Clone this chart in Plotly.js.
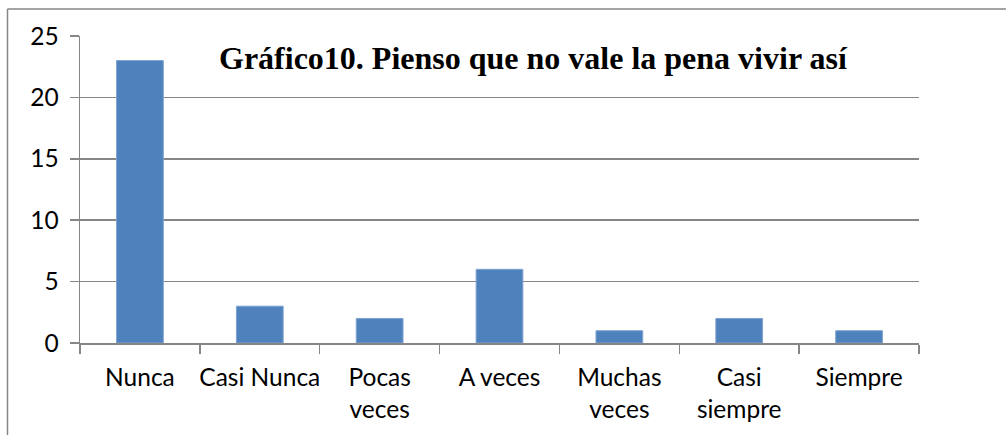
<!DOCTYPE html>
<html><head><meta charset="utf-8">
<script src="https://cdn.plot.ly/plotly-3.0.1.min.js"></script>
<style>html,body{margin:0;padding:0;background:#fff;}#chart{width:1006px;height:435px;}</style>
</head><body><div id="chart"></div>
<script>
const categories = ["Nunca", "Casi Nunca", "Pocas veces", "A veces", "Muchas veces", "Casi siempre", "Siempre"];
const tickLabels = ["Nunca", "Casi Nunca", "Pocas<br>veces", "A veces", "Muchas<br>veces", "Casi<br>siempre", "Siempre"];
const values = [23, 3, 2, 6, 1, 2, 1];
const yTicks = [0, 5, 10, 15, 20, 25];
const titleText = "Gráfico10. Pienso que no vale la pena vivir así";

const W = 1006, H = 435;
const m = {l: 80, r: 87, t: 36, b: 92};
const pw = W - m.l - m.r, ph = H - m.t - m.b;
const px = x => (x - m.l) / pw;
const py = y => 1 - (y - m.t) / ph;

const data = [{
  type: 'bar', x: categories, y: values,
  marker: {color: '#4F81BD', line: {color: '#7fa3d1', width: 1}},
  hoverinfo: 'skip'
}];
const axisFont = {family: 'Lato, sans-serif', size: 24.5, color: '#000'};
const layout = {
  width: W, height: H, margin: m,
  paper_bgcolor: '#fff', plot_bgcolor: '#fff',
  showlegend: false, bargap: 0.61,
  xaxis: {
    type: 'category', tickvals: categories, ticktext: tickLabels, tickangle: 0,
    showline: true, linecolor: '#868686', linewidth: 1.5,
    ticks: 'outside', tickson: 'boundaries', ticklen: 9, tickcolor: '#868686', tickwidth: 1.5,
    showgrid: false, tickfont: axisFont, ticklabelstandoff: 12, fixedrange: true
  },
  yaxis: {
    range: [0, 25], tickvals: yTicks, showline: true, linecolor: '#868686', linewidth: 1.5,
    ticks: 'outside', ticklen: 9, tickcolor: '#868686', tickwidth: 1.5,
    showgrid: true, gridcolor: '#868686', gridwidth: 1.5, zeroline: false,
    tickfont: axisFont, ticklabelstandoff: 6, fixedrange: true
  },
  annotations: [{
    text: '<b>' + titleText + '</b>', xref: 'paper', yref: 'paper',
    x: px(533), y: py(58), xanchor: 'center', yanchor: 'middle', showarrow: false,
    font: {family: 'Times New Roman, Liberation Serif, serif', size: 32, color: '#000'}
  }],
  shapes: [
    {type: 'line', xref: 'paper', yref: 'paper', x0: px(7.5), x1: px(7.5), y0: py(9), y1: py(H + 10), line: {color: '#868686', width: 1.5}},
    {type: 'line', xref: 'paper', yref: 'paper', x0: px(7.5), x1: px(W + 10), y0: py(9), y1: py(9), line: {color: '#868686', width: 1.5}}
  ]
};
Plotly.newPlot('chart', data, layout, {displayModeBar: false, staticPlot: true});
</script></body></html>
